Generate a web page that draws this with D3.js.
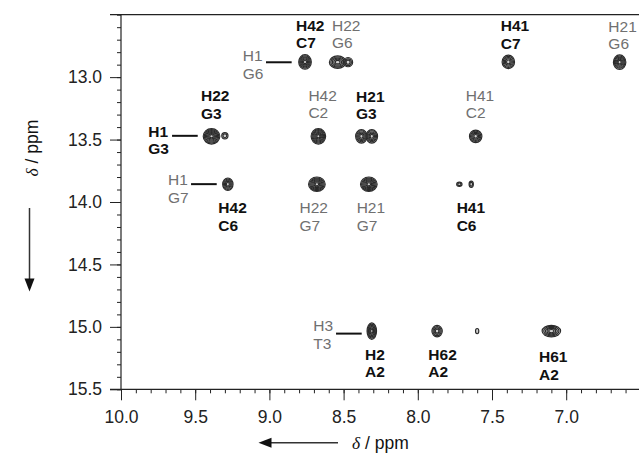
<!DOCTYPE html>
<meta charset="utf-8">
<script src="https://d3js.org/d3.v7.min.js"></script>
<style>
    body { margin: 0; background: #fff; }
    text { font-family: "Liberation Sans", Arial, sans-serif; }
</style>
<div id="my_chart"><svg></svg></div>
<script>
    // cross peaks (ppm), F2 = x, F1 = y, with width/height in ppm and number of contour levels
    var peakX = [8.76, 8.54, 8.47, 7.39, 6.64, 9.39, 9.30, 8.67, 8.38, 8.31, 7.61, 9.28, 8.68, 8.33, 7.64, 7.72, 8.31, 7.87, 7.60, 7.10];
    var peakY = [12.878, 12.880, 12.880, 12.878, 12.880, 13.474, 13.470, 13.474, 13.474, 13.474, 13.474, 13.858, 13.858, 13.858, 13.858, 13.858, 15.034, 15.034, 15.034, 15.034];
    var peakW = [0.085, 0.112, 0.062, 0.084, 0.084, 0.112, 0.042, 0.098, 0.078, 0.078, 0.084, 0.070, 0.112, 0.112, 0.029, 0.036, 0.064, 0.070, 0.022, 0.125];
    var peakH = [0.116, 0.100, 0.074, 0.108, 0.116, 0.124, 0.050, 0.124, 0.108, 0.108, 0.100, 0.100, 0.116, 0.116, 0.050, 0.034, 0.132, 0.092, 0.042, 0.092];
    var peakLevels = [6, 5, 3, 5, 6, 7, 2, 7, 5, 5, 5, 5, 7, 7, 2, 2, 6, 4, 1, 5];

    // axis ticks
    var xTicks = [10.0, 9.5, 9.0, 8.5, 8.0, 7.5, 7.0];
    var yTicks = [13.0, 13.5, 14.0, 14.5, 15.0, 15.5];

    // assignments: text lines, bold (sequential) or grey, anchored in ppm
    var labelLines = [["H42", "C7"], ["H22", "G6"], ["H41", "C7"], ["H21", "G6"], ["H1", "G6"],
        ["H22", "G3"], ["H1", "G3"], ["H42", "C2"], ["H21", "G3"], ["H41", "C2"],
        ["H1", "G7"], ["H42", "C6"], ["H22", "G7"], ["H21", "G7"], ["H41", "C6"],
        ["H3", "T3"], ["H2", "A2"], ["H62", "A2"], ["H61", "A2"]];
    var labelBold = [true, false, true, false, false,
        true, true, false, true, false,
        false, true, false, false, true,
        false, true, true, true];
    var labelX = [8.821, 8.578, 7.441, 6.716, 9.180,
        9.461, 9.816, 8.737, 8.416, 7.677,
        9.683, 9.344, 8.797, 8.412, 7.738,
        8.704, 8.356, 7.929, 7.183];
    var labelY = [12.627, 12.627, 12.633, 12.635, 12.871,
        13.194, 13.476, 13.188, 13.196, 13.188,
        13.864, 14.087, 14.087, 14.087, 14.087,
        15.036, 15.262, 15.262, 15.280];

    // leader lines from a label to its peak (ppm)
    var leaderX1 = [9.023, 9.656, 9.528, 8.551];
    var leaderX2 = [8.850, 9.483, 9.355, 8.378];
    var leaderY = [12.881, 13.470, 13.857, 15.054];

    var width = 639, height = 453;
    var svg = d3.select("#my_chart").select("svg")
        .attr("width", width)
        .attr("height", height);

    // scales (NMR axes run backwards)
    var x = d3.scaleLinear().domain([10, 6.5]).range([121, 640.4]);
    var y = d3.scaleLinear().domain([12.5, 15.5]).range([14.7, 389.3]);

    var axisColor = "#222";

    // minor ticks every 0.1 ppm
    var xMinor = d3.range(65, 101).map(function(d) { return d / 10; });
    var yMinor = d3.range(125, 156).map(function(d) { return d / 10; });

    svg.append("g")
        .attr("transform", "translate(0," + y(15.5) + ")")
        .call(d3.axisBottom(x).tickValues(xMinor).tickSize(4).tickFormat(""))
        .call(function(g) { g.select(".domain").remove(); });
    svg.append("g")
        .attr("transform", "translate(" + x(10) + ",0)")
        .call(d3.axisLeft(y).tickValues(yMinor).tickSize(4).tickFormat(""))
        .call(function(g) { g.select(".domain").remove(); });

    // major ticks with labels
    var xAxis = svg.append("g")
        .attr("transform", "translate(0," + y(15.5) + ")")
        .call(d3.axisBottom(x).tickValues(xTicks).tickSize(11).tickPadding(10).tickFormat(d3.format(".1f")));
    xAxis.select(".domain").remove();
    var yAxis = svg.append("g")
        .attr("transform", "translate(" + x(10) + ",0)")
        .call(d3.axisLeft(y).tickValues(yTicks).tickSize(11).tickPadding(8).tickFormat(d3.format(".1f")));
    yAxis.select(".domain").remove();

    svg.selectAll(".tick line").attr("stroke", axisColor).attr("stroke-width", 1);
    svg.selectAll(".tick text")
        .attr("fill", axisColor)
        .style("font-size", "17.5px")
        .style("font-family", "'Liberation Sans', Arial, sans-serif");

    // frame: top line, bottom line, left line
    svg.append("line")
        .attr("x1", x(10) - 11).attr("x2", x(6.5))
        .attr("y1", y(12.5)).attr("y2", y(12.5))
        .attr("stroke", axisColor).attr("stroke-width", 1.2);
    svg.append("line")
        .attr("x1", x(10) - 11).attr("x2", x(6.5))
        .attr("y1", y(15.5)).attr("y2", y(15.5))
        .attr("stroke", axisColor).attr("stroke-width", 1.2);
    svg.append("line")
        .attr("x1", x(10)).attr("x2", x(10))
        .attr("y1", y(12.5)).attr("y2", y(15.5))
        .attr("stroke", axisColor).attr("stroke-width", 1.2);

    // peaks drawn as nested contour rings
    var peaks = peakX.map(function(d, i) {
        return { x: d, y: peakY[i], w: peakW[i], h: peakH[i], n: peakLevels[i] };
    });
    var peakG = svg.append("g").selectAll("g")
        .data(peaks)
        .enter().append("g")
        .attr("transform", function(d) { return "translate(" + x(d.x) + "," + y(d.y) + ")"; });
    peakG.selectAll("ellipse")
        .data(function(d) {
            return d3.range(d.n).map(function(k) {
                var s = 1 - k / (d.n + 0.6);
                return {
                    k: k,
                    rx: Math.abs(x(10 + d.w) - x(10)) * 0.5 * s,
                    ry: (y(12.5 + d.h) - y(12.5)) * 0.5 * s
                };
            });
        })
        .enter().append("ellipse")
        .attr("rx", function(d) { return d.rx; })
        .attr("ry", function(d) { return d.ry; })
        .attr("fill", function(d) { return d.k === 0 ? "#777" : "none"; })
        .attr("fill-opacity", 0.35)
        .attr("stroke", "#2a2a2a")
        .attr("stroke-width", 1.15);

    // leader lines
    svg.append("g").selectAll("line")
        .data(leaderX1)
        .enter().append("line")
        .attr("x1", function(d) { return x(d); })
        .attr("x2", function(d, i) { return x(leaderX2[i]); })
        .attr("y1", function(d, i) { return y(leaderY[i]); })
        .attr("y2", function(d, i) { return y(leaderY[i]); })
        .attr("stroke", "#111")
        .attr("stroke-width", 2);

    // assignment labels
    var labels = svg.append("g").selectAll("text")
        .data(labelLines)
        .enter().append("text")
        .attr("x", function(d, i) { return x(labelX[i]); })
        .attr("y", function(d, i) { return y(labelY[i]); })
        .attr("fill", function(d, i) { return labelBold[i] ? "#111" : "#707070"; })
        .style("font-weight", function(d, i) { return labelBold[i] ? "bold" : "normal"; })
        .style("font-size", "15.5px");
    labels.selectAll("tspan")
        .data(function(d) { return d; })
        .enter().append("tspan")
        .attr("x", function() { return this.parentNode.getAttribute("x"); })
        .attr("dy", function(d, i) { return i === 0 ? 0 : 17.8; })
        .text(function(d) { return d; });

    // axis titles with direction arrows
    function arrowHead(tx, ty, dir) {
        // dir: "down" or "left"
        var p = dir === "down"
            ? [[tx, ty], [tx - 5, ty - 13], [tx + 5, ty - 13]]
            : [[tx, ty], [tx + 13, ty - 5], [tx + 13, ty + 5]];
        svg.append("path")
            .attr("d", "M" + p.join("L") + "Z")
            .attr("fill", "#111");
    }

    var yTitle = svg.append("text")
        .attr("transform", "translate(38,148) rotate(-90)")
        .attr("text-anchor", "middle")
        .attr("fill", "#111")
        .style("font-size", "17.5px");
    yTitle.append("tspan").style("font-family", "'Liberation Serif', 'DejaVu Serif', serif")
        .style("font-style", "italic").text("δ");
    yTitle.append("tspan").text(" / ppm");

    svg.append("line")
        .attr("x1", 29.5).attr("x2", 29.5)
        .attr("y1", 208).attr("y2", 282)
        .attr("stroke", "#333").attr("stroke-width", 1.5);
    arrowHead(29.5, 291.5, "down");

    var xTitle = svg.append("text")
        .attr("x", 352)
        .attr("y", 449)
        .attr("fill", "#111")
        .style("font-size", "17.5px");
    xTitle.append("tspan").style("font-family", "'Liberation Serif', 'DejaVu Serif', serif")
        .style("font-style", "italic").text("δ");
    xTitle.append("tspan").text(" / ppm");

    svg.append("line")
        .attr("x1", 338).attr("x2", 268)
        .attr("y1", 442.7).attr("y2", 442.7)
        .attr("stroke", "#333").attr("stroke-width", 1.5);
    arrowHead(258.5, 442.7, "left");
</script>
